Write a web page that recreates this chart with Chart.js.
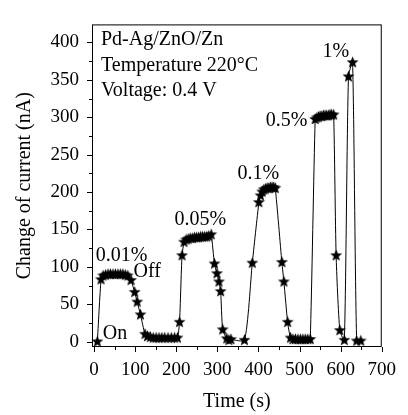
<!DOCTYPE html>
<html>
<head>
<meta charset="utf-8">
<script src="https://cdn.jsdelivr.net/npm/chart.js@4.4.1/dist/chart.umd.min.js"></script>
<style>
    html, body { margin: 0; padding: 0; background: #fff; }
    #contenedor { width: 408px; height: 415px; }
</style>
</head>
<body>
<div id="contenedor"><canvas id="grafica"></canvas></div>
<script>
// datos
const tiempo = [
    8, 17, 22, 28, 34, 40, 46, 52, 58, 64, 70, 76, 82, 90, 99, 105, 113, 124,
    130, 137, 144, 151, 158, 165, 172, 180, 188, 196, 203, 208, 214,
    219, 224, 229, 234, 239, 244, 249, 254, 259, 264, 269, 274, 279, 285,
    293, 299, 304, 308, 313, 323, 328, 333, 366, 385, 401,
    405, 409, 413, 417, 421, 425, 429, 433, 437, 441, 457, 462, 471,
    478, 484, 490, 496, 502, 508, 514, 520, 526, 538,
    542, 546, 550, 554, 558, 562, 566, 570, 574, 578, 583,
    589, 598, 609, 619, 629, 639, 649
];
const corriente = [
    0, 83, 88, 89, 90, 90, 90, 90, 90, 90, 90, 89, 88, 82, 66, 53, 36, 10,
    7, 6, 5, 5, 5, 5, 5, 5, 5, 5, 5, 26, 115,
    133, 136, 137, 138, 138, 139, 139, 139, 140, 140, 140, 140, 141, 143,
    104, 91, 80, 67, 16, 4, 2, 3, 2, 105, 186,
    195, 200, 203, 204, 205, 205, 206, 206, 206, 205, 106, 80, 26,
    5, 3, 3, 3, 3, 3, 3, 3, 3, 297,
    299, 300, 301, 301, 302, 302, 302, 302, 303, 303, 303,
    115, 15, 2, 354, 373, 1, 1
];

const ticksX = [0, 100, 200, 300, 400, 500, 600, 700];
const ticksY = [0, 50, 100, 150, 200, 250, 300, 350, 400];

// textos sobre la curva (posicion en unidades de los ejes)
const etiquetas  = ['0.01%', 'Off', 'On', '0.05%', '0.1%', '0.5%', '1%'];
const etiquetasX = [4, 96, 21, 196, 349, 418, 556];
const etiquetasY = [108, 87, 4, 156, 217, 288, 381];

const leyenda = ['Pd-Ag/ZnO/Zn', 'Temperature 220°C', 'Voltage: 0.4 V'];

const FUENTE = '"Liberation Serif", "DejaVu Serif", serif';

// estrella rellena para los puntos
function crearEstrella(radio) {
    const lado = Math.ceil(radio * 2) + 2;
    const c = document.createElement('canvas');
    c.width = lado; c.height = lado;
    const g = c.getContext('2d');
    const cx = lado / 2, cy = lado / 2;
    const interior = radio * 0.42;
    g.beginPath();
    for (let i = 0; i < 10; i++) {
        const r = i % 2 === 0 ? radio : interior;
        const ang = -Math.PI / 2 + i * Math.PI / 5;
        const px = cx + r * Math.cos(ang), py = cy + r * Math.sin(ang);
        if (i === 0) g.moveTo(px, py); else g.lineTo(px, py);
    }
    g.closePath();
    g.fillStyle = '#000';
    g.fill();
    return c;
}

// marco, marcas de los ejes y textos
const adornos = {
    id: 'adornos',
    afterDraw(chart) {
        const { ctx, chartArea: a, scales: { x, y } } = chart;
        ctx.save();
        ctx.strokeStyle = '#000';
        ctx.lineWidth = 1;
        ctx.strokeRect(a.left + 0.5, a.top + 0.5, a.right - a.left - 1, a.bottom - a.top - 1);

        ctx.beginPath();
        for (let v = 0; v <= 700; v += 50) {
            const px = Math.round(x.getPixelForValue(v)) + 0.5;
            const largo = v % 100 === 0 ? 5 : 3;
            ctx.moveTo(px, a.bottom);
            ctx.lineTo(px, a.bottom + largo);
        }
        for (let v = 0; v <= 400; v += 25) {
            const py = Math.round(y.getPixelForValue(v)) + 0.5;
            const largo = v % 50 === 0 ? 5 : 3;
            ctx.moveTo(a.left, py);
            ctx.lineTo(a.left - largo, py);
        }
        ctx.stroke();

        ctx.fillStyle = '#000';
        ctx.font = '20px ' + FUENTE;
        ctx.textAlign = 'left';
        ctx.textBaseline = 'alphabetic';
        etiquetas.forEach((t, i) => {
            ctx.fillText(t, x.getPixelForValue(etiquetasX[i]), y.getPixelForValue(etiquetasY[i]));
        });
        leyenda.forEach((t, i) => {
            ctx.fillText(t, a.left + 9, a.top + 21 + i * 25.5);
        });
        ctx.restore();
    }
};

new Chart(document.getElementById('grafica'), {
    type: 'scatter',
    data: {
        datasets: [{
            data: tiempo.map((t, i) => ({ x: t, y: corriente[i] })),
            showLine: true,
            borderColor: '#000',
            borderWidth: 1,
            tension: 0.2,
            pointStyle: crearEstrella(6.3),
            clip: false
        }]
    },
    options: {
        responsive: true,
        maintainAspectRatio: false,
        animation: false,
        devicePixelRatio: 1,
        layout: { padding: { top: 10, right: 18, left: 0, bottom: 0 } },
        plugins: { legend: { display: false }, tooltip: { enabled: false } },
        scales: {
            x: {
                type: 'linear',
                min: -5,
                max: 700,
                afterBuildTicks: s => { s.ticks = ticksX.map(v => ({ value: v })); },
                afterFit: s => { s.height = 68; },
                grid: { display: false, drawTicks: false },
                border: { display: false },
                ticks: { color: '#000', font: { family: FUENTE, size: 19 }, padding: 12, maxRotation: 0, autoSkip: false },
                title: { display: true, text: 'Time (s)', color: '#000', font: { family: FUENTE, size: 20 }, padding: { top: 0, bottom: 1 } }
            },
            y: {
                type: 'linear',
                min: -7,
                max: 424,
                afterBuildTicks: s => { s.ticks = ticksY.map(v => ({ value: v })); },
                afterFit: s => { s.width = 92; },
                grid: { display: false, drawTicks: false },
                border: { display: false },
                ticks: { color: '#000', font: { family: FUENTE, size: 19 }, padding: 13, autoSkip: false },
                title: { display: true, text: 'Change of current (nA)', color: '#000', font: { family: FUENTE, size: 20 }, padding: { top: 13, bottom: 0 } }
            }
        }
    },
    plugins: [adornos]
});
</script>
</body>
</html>
